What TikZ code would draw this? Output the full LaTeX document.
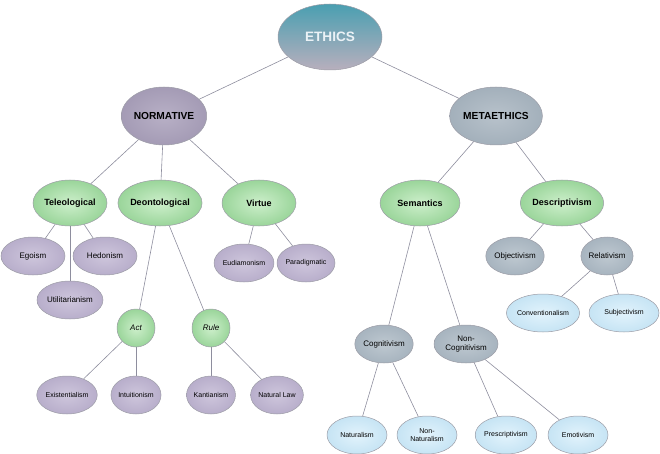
\documentclass[tikz,border=0pt]{standalone}
\usepackage{fontspec}
\setmainfont{Liberation Sans}
\usetikzlibrary{shapes.geometric}
\definecolor{edgecol}{HTML}{8E8E9E}
\definecolor{bordcol}{HTML}{9C9CA6}
\definecolor{purpin}{HTML}{CEC6DC}
\definecolor{purpout}{HTML}{B8AECB}
\definecolor{normin}{HTML}{B8B0C6}
\definecolor{normout}{HTML}{A49BB5}
\definecolor{metain}{HTML}{B8C2CB}
\definecolor{metaout}{HTML}{A3B0BB}
\definecolor{gbin}{HTML}{BEC8D0}
\definecolor{gbout}{HTML}{A7B4BF}
\definecolor{grin}{HTML}{CDEFCB}
\definecolor{grout}{HTML}{9AD59A}
\definecolor{blin}{HTML}{E2F3FC}
\definecolor{blout}{HTML}{C6E4F4}
\definecolor{ethtop}{HTML}{4A9FB1}
\definecolor{ethmid}{HTML}{76A7B5}
\definecolor{ethbot}{HTML}{B8AFBD}
\definecolor{ethtext}{HTML}{EBF2F6}
\tikzset{
  base/.style={ellipse, draw=bordcol, line width=0.5pt, inner sep=0pt, align=center, text=black},
  purpbig/.style={base, inner color=normin, outer color=normout, font=\bfseries\fontsize{10.2}{12}\selectfont},
  graybig/.style={base, inner color=metain, outer color=metaout, font=\bfseries\fontsize{10.2}{12}\selectfont},
  green/.style={base, inner color=grin, outer color=grout, font=\bfseries\fontsize{9}{11}\selectfont},
  purp/.style={base, inner color=purpin, outer color=purpout, font=\fontsize{8}{9.5}\selectfont},
  purps/.style={purp, font=\fontsize{7}{8.5}\selectfont},
  grayb/.style={base, inner color=gbin, outer color=gbout, font=\fontsize{8}{9.5}\selectfont},
  blueleaf/.style={base, inner color=blin, outer color=blout, font=\fontsize{7}{8.5}\selectfont},
  greensm/.style={base, inner color=grin, outer color=grout, font=\itshape\fontsize{8}{9.5}\selectfont},
  conn/.style={draw=edgecol, line width=0.6pt},
}
\begin{document}
\begin{tikzpicture}[x=1pt,y=-1pt]
\useasboundingbox (0,0) rectangle (660,454);
% level 0
\node[base, top color=ethtop, middle color=ethmid, bottom color=ethbot, minimum width=104, minimum height=66, text=ethtext, font=\bfseries\fontsize{13.6}{16}\selectfont] (ethics) at (330,37) {ETHICS};
% level 1
\node[purpbig, minimum width=84, minimum height=58] (norm) at (164,116) {NORMATIVE};
\node[graybig, minimum width=88, minimum height=58] (meta) at (496,116) {METAETHICS};
% level 2
\node[green, minimum width=74, minimum height=46] (tele) at (70,203) {Teleological};
\node[green, minimum width=72, minimum height=46] (deon) at (160,203) {Deontological};
\node[green, minimum width=74, minimum height=46] (virt) at (259,203) {Virtue};
\node[green, minimum width=80, minimum height=46] (sem) at (420,203) {Semantics};
\node[green, minimum width=80, minimum height=46] (desc) at (562,203) {Descriptivism};
% teleological children
\node[purp, minimum width=64, minimum height=38] (ego) at (33,256) {Egoism};
\node[purp, minimum width=64, minimum height=38] (hedo) at (105,256) {Hedonism};
\node[purp, minimum width=66, minimum height=38] (util) at (70,300) {Utilitarianism};
% virtue children
\node[purps, minimum width=56, minimum height=38] (eud) at (244,263) {Eudiamonism};
\node[purps, minimum width=58, minimum height=38] (para) at (306,263) {Paradigmatic};
% deontological children
\node[greensm, minimum width=38, minimum height=38] (act) at (136,328) {Act};
\node[greensm, minimum width=38, minimum height=38] (rule) at (211,328) {Rule};
\node[purps, minimum width=58, minimum height=38] (exis) at (67,395) {Existentialism};
\node[purps, minimum width=50, minimum height=38] (intu) at (136,395) {Intuitionism};
\node[purps, minimum width=48, minimum height=38] (kant) at (211,395) {Kantianism};
\node[purps, minimum width=52, minimum height=38] (natl) at (277,395) {Natural Law};
% descriptivism children
\node[grayb, minimum width=56, minimum height=38] (obj) at (515,256) {Objectivism};
\node[grayb, minimum width=50, minimum height=38] (rel) at (607,256) {Relativism};
\node[blueleaf, minimum width=70, minimum height=38] (conv) at (543,313) {Conventionalism};
\node[blueleaf, minimum width=70, minimum height=38] (subj) at (624,313) {Subjectivism};
% semantics children
\node[grayb, minimum width=58, minimum height=38] (cog) at (384,344) {Cognitivism};
\node[grayb, minimum width=64, minimum height=38] (ncog) at (466,344) {Non-\\Cognitivism};
\node[blueleaf, minimum width=60, minimum height=38] (nat) at (357,435) {Naturalism};
\node[blueleaf, minimum width=60, minimum height=38] (nnat) at (427,435) {Non-\\Naturalism};
\node[blueleaf, minimum width=60, minimum height=38] (pres) at (506,435) {Prescriptivism};
\node[blueleaf, minimum width=60, minimum height=38] (emot) at (578,435) {Emotivism};
% connectors
\draw[conn] (ethics) -- (norm);
\draw[conn] (ethics) -- (meta);
\draw[conn] (norm) -- (tele);
\draw[conn] (norm) -- (deon);
\draw[conn] (norm) -- (virt);
\draw[conn] (meta) -- (sem);
\draw[conn] (meta) -- (desc);
\draw[conn] (tele) -- (ego);
\draw[conn] (tele) -- (hedo);
\draw[conn] (tele) -- (util);
\draw[conn] (virt) -- (eud);
\draw[conn] (virt) -- (para);
\draw[conn] (deon) -- (act);
\draw[conn] (deon) -- (rule);
\draw[conn] (act) -- (exis);
\draw[conn] (act) -- (intu);
\draw[conn] (rule) -- (kant);
\draw[conn] (rule) -- (natl);
\draw[conn] (desc) -- (obj);
\draw[conn] (desc) -- (rel);
\draw[conn] (rel) -- (conv);
\draw[conn] (rel) -- (subj);
\draw[conn] (sem) -- (cog);
\draw[conn] (sem) -- (ncog);
\draw[conn] (cog) -- (nat);
\draw[conn] (cog) -- (nnat);
\draw[conn] (ncog) -- (pres);
\draw[conn] (ncog) -- (emot);
\end{tikzpicture}
\end{document}
